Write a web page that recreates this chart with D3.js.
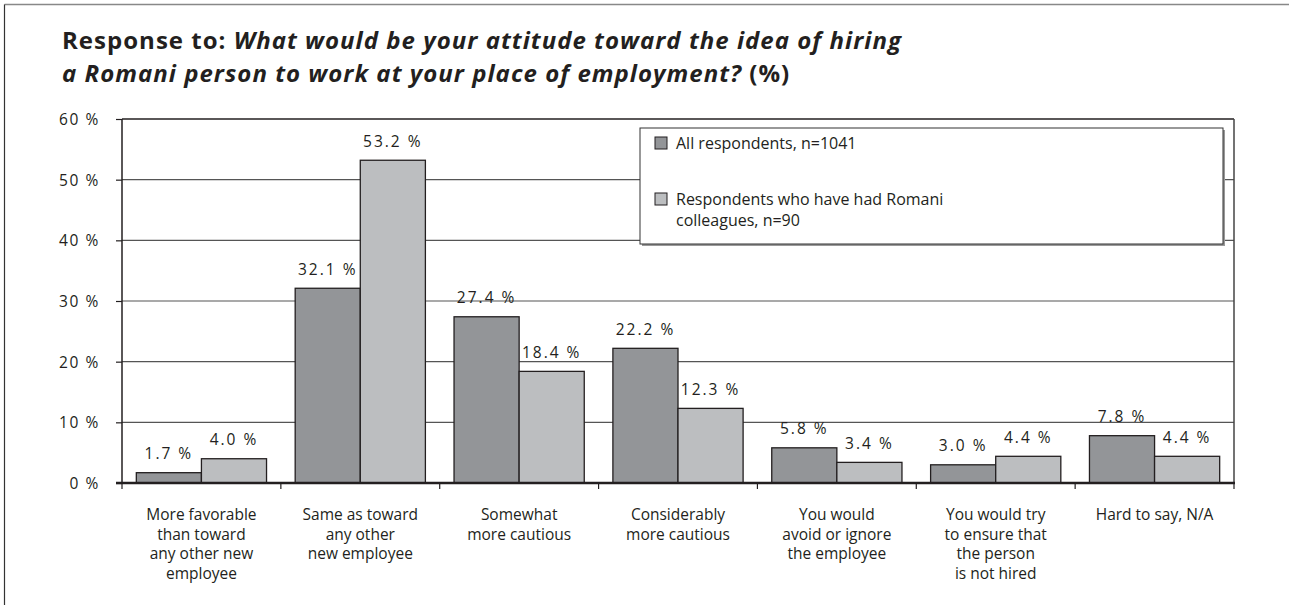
<!DOCTYPE html>
<html><head><meta charset="utf-8">
<script src="https://cdn.jsdelivr.net/npm/d3@7"></script>
<style>
html,body{margin:0;padding:0;background:#fff;}
svg{display:block;}
text{font-family:"Open Sans","Noto Sans",sans-serif;fill:#231f20;}
</style></head>
<body>
<svg id="chart" width="1289" height="605"></svg>
<script>
const categories = [
  ["More favorable","than toward","any other new","employee"],
  ["Same as toward","any other","new employee"],
  ["Somewhat","more cautious"],
  ["Considerably","more cautious"],
  ["You would","avoid or ignore","the employee"],
  ["You would try","to ensure that","the person","is not hired"],
  ["Hard to say, N/A"]
];
const seriesNames = ["All respondents, n=1041", "Respondents who have had Romani colleagues, n=90"];
const legendLines = [["All respondents, n=1041"], ["Respondents who have had Romani","colleagues, n=90"]];
const allRespondents = [1.7, 32.1, 27.4, 22.2, 5.8, 3.0, 7.8];
const romaniColleagues = [4.0, 53.2, 18.4, 12.3, 3.4, 4.4, 4.4];
const yTicks = [0, 10, 20, 30, 40, 50, 60];
const colors = ["#939598", "#bcbec0"];

const svg = d3.select("#chart");
const L = 122, R = 1234, T = 119, B = 483;

// outer frame
svg.append("line").attr("x1",4.5).attr("x2",1289).attr("y1",4.5).attr("y2",4.5).attr("stroke","#888").attr("stroke-width",1.5);
svg.append("line").attr("x1",4.5).attr("x2",4.5).attr("y1",4.5).attr("y2",605).attr("stroke","#333").attr("stroke-width",1.2);

// title
const t1 = svg.append("text").attr("x",62).attr("y",49).style("font-size","24px").style("font-weight","700");
t1.append("tspan").text("Response to: ");
t1.append("tspan").style("font-style","italic").text("What would be your attitude toward the idea of hiring");
const t2 = svg.append("text").attr("x",62).attr("y",82).style("font-size","24px").style("font-weight","700");
t2.append("tspan").style("font-style","italic").text("a Romani person to work at your place of employment?");
t2.append("tspan").text(" (%)");
{
  const w = t1.node().getComputedTextLength();
  const n = t1.text().length;
  const ls = Math.max(0, (840 - w) / n);
  t1.style("letter-spacing", ls + "px");
  t2.style("letter-spacing", ls + "px");
}

const x0 = d3.scaleBand().domain(d3.range(categories.length)).range([L, R]).paddingInner(0).paddingOuter(0);
const x1 = d3.scaleBand().domain([0,1]).range([0, x0.bandwidth()]).paddingInner(0).paddingOuter(0.22);
const y = d3.scaleLinear().domain([0, 60]).range([B, T]);

// gridlines
svg.append("g").selectAll("line").data(yTicks.filter(d=>d>0)).join("line")
  .attr("x1",L).attr("x2",R).attr("y1",d=>y(d)).attr("y2",d=>y(d))
  .attr("stroke",d=>d===60?"#231f20":"#555").attr("stroke-width",d=>d===60?1.5:1.2);

// y axis
const yAxis = svg.append("g").attr("transform",`translate(${L},0)`)
  .call(d3.axisLeft(y).tickValues(yTicks).tickSize(6).tickPadding(16).tickFormat(d=>d+" %"));
yAxis.select(".domain").remove();
yAxis.selectAll("line").attr("stroke","#231f20").attr("stroke-width",1.2);
yAxis.selectAll("text").style("font-size","15.5px").style("letter-spacing","1.6px").attr("fill","#333").attr("dy","0.35em");
svg.append("line").attr("x1",L).attr("x2",L).attr("y1",T).attr("y2",B).attr("stroke","#231f20").attr("stroke-width",1.5);
svg.append("line").attr("x1",R).attr("x2",R).attr("y1",T).attr("y2",B).attr("stroke","#444").attr("stroke-width",1.5);

// bars
const data = categories.map((c,i)=>({i, vals:[allRespondents[i], romaniColleagues[i]]}));
const g = svg.append("g").selectAll("g").data(data).join("g").attr("transform",d=>`translate(${x0(d.i)},0)`);
g.selectAll("rect").data(d=>d.vals.map((v,s)=>({v,s}))).join("rect")
  .attr("x",d=>x1(d.s)).attr("width",x1.bandwidth())
  .attr("y",d=>y(d.v)).attr("height",d=>B-y(d.v))
  .attr("fill",d=>colors[d.s]).attr("stroke","#231f20").attr("stroke-width",1.3);
g.selectAll("text.val").data(d=>d.vals.map((v,s)=>({v,s}))).join("text").attr("class","val")
  .attr("x",d=>x1(d.s)+x1.bandwidth()/2).attr("y",d=>y(d.v)-19).attr("dy","0.35em")
  .attr("text-anchor","middle").style("font-size","15.5px").style("letter-spacing","2px").attr("fill","#333")
  .text(d=>d.v.toFixed(1)+" %");

// x axis
const xAxis = svg.append("g").attr("transform",`translate(0,${B})`);
xAxis.append("line").attr("x1",L-6).attr("x2",R+1).attr("y1",0).attr("y2",0).attr("stroke","#231f20").attr("stroke-width",2.5);
xAxis.selectAll("line.tk").data(d3.range(categories.length+1)).join("line").attr("class","tk")
  .attr("x1",d=>d<categories.length?x0(d):R).attr("x2",d=>d<categories.length?x0(d):R)
  .attr("y1",0).attr("y2",6).attr("stroke","#231f20").attr("stroke-width",1.2);
const xl = svg.append("g").selectAll("text").data(categories).join("text")
  .attr("x",(d,i)=>x0(i)+x0.bandwidth()/2).attr("y",520)
  .attr("text-anchor","middle").style("font-size","15.5px").attr("fill","#333");
xl.each(function(lines){
  const t = d3.select(this);
  lines.forEach((ln,k)=>t.append("tspan").attr("x",t.attr("x")).attr("dy",k===0?0:19.5).text(ln));
});

// legend
const lg = svg.append("g");
lg.append("rect").attr("x",642).attr("y",130).attr("width",583).attr("height",116).attr("fill","#999");
lg.append("rect").attr("x",640).attr("y",128).attr("width",583).attr("height",116).attr("fill","#fff").attr("stroke","#333").attr("stroke-width",1);
const li = lg.selectAll("g").data(seriesNames).join("g").attr("transform",(d,i)=>`translate(655,${i===0?143:199})`);
li.append("rect").attr("x",0).attr("y",-6).attr("width",12).attr("height",12).attr("fill",(d,i)=>colors[i]).attr("stroke","#231f20").attr("stroke-width",1);
li.append("text").attr("x",21).attr("y",0).style("font-size","16px").attr("fill","#333")
  .each(function(d,i){
    const t=d3.select(this);
    legendLines[i].forEach((ln,k)=>t.append("tspan").attr("x",21).attr("dy",k===0?"0.35em":21).text(ln));
  });
</script>
</body></html>
